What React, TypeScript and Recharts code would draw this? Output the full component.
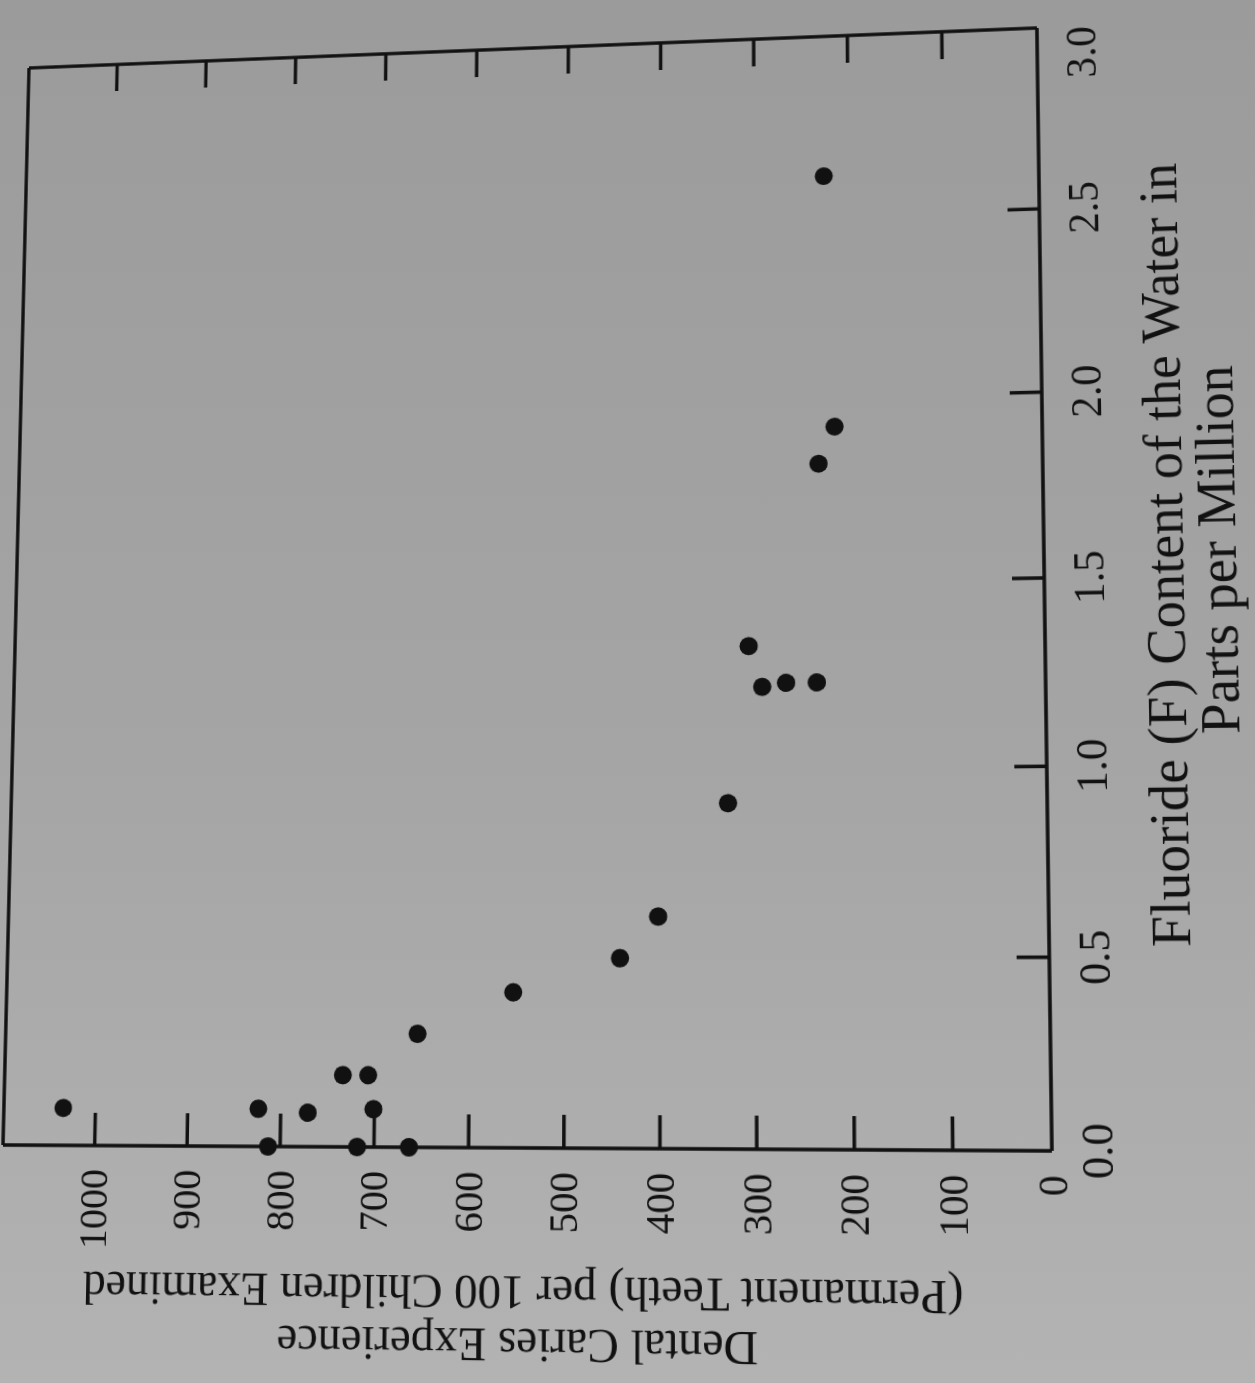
import React from "react";
import { ScatterChart, Scatter, XAxis, YAxis } from "recharts";

// fluoride (ppm) and caries (per 100 children)
const fluoride = [0.1, 0.1, 0.0, 0.09, 0.19, 0.0, 0.19, 0.1, 0.0, 0.3, 0.41, 0.5, 0.61, 0.91, 1.33, 1.22, 1.23, 1.23, 1.82, 1.92, 2.61];
const caries = [1035, 824, 813, 771, 734, 718, 707, 701, 663, 655, 554, 442, 402, 329, 307, 293, 268, 236, 233, 216, 226];

const fluorideTicks = [0, 0.5, 1, 1.5, 2, 2.5, 3];
const cariesTicks = [0, 100, 200, 300, 400, 500, 600, 700, 800, 900, 1000];

const xTitle = ["Fluoride (F) Content of the Water in", "Parts per Million"];
const yTitle = ["Dental Caries Experience", "(Permanent Teeth) per 100 Children Examined"];

const points = fluoride.map((f, i) => ({ f, c: caries[i] }));

const FONT = "'Liberation Serif', 'DejaVu Serif', serif";
const INK = "#111";

// chart drawn upright, then projected onto the rotated, slightly skewed page
const W = 1390;
const H = 1280;
const L = 250;
const T = 20;
const PW = 1100;
const PH = 1030;

function homography(src: number[][], dst: number[][]) {
  const A: number[][] = [];
  const b: number[] = [];
  for (let i = 0; i < 4; i++) {
    const [x, y] = src[i];
    const [u, v] = dst[i];
    A.push([x, y, 1, 0, 0, 0, -x * u, -y * u]);
    b.push(u);
    A.push([0, 0, 0, x, y, 1, -x * v, -y * v]);
    b.push(v);
  }
  for (let c = 0; c < 8; c++) {
    let p = c;
    for (let r = c + 1; r < 8; r++) if (Math.abs(A[r][c]) > Math.abs(A[p][c])) p = r;
    [A[c], A[p]] = [A[p], A[c]];
    [b[c], b[p]] = [b[p], b[c]];
    for (let r = 0; r < 8; r++) {
      if (r === c) continue;
      const k = A[r][c] / A[c][c];
      for (let j = c; j < 8; j++) A[r][j] -= k * A[c][j];
      b[r] -= k * b[c];
    }
  }
  const h = b.map((v, i) => (v / A[i][i]).toFixed(10));
  return `matrix3d(${h[0]},${h[3]},0,${h[6]},${h[1]},${h[4]},0,${h[7]},0,0,1,0,${h[2]},${h[5]},0,1)`;
}

const transform = homography(
  [
    [L, T],
    [L + PW, T],
    [L + PW, T + PH],
    [L, T + PH],
  ],
  [
    [3, 1145],
    [29, 68],
    [1037, 28],
    [1052, 1151],
  ]
);

function FluorideTick(props: any) {
  const { x, y, payload } = props;
  const v = payload.value;
  return (
    <g>
      {v > 0 && v < 3 && <line x1={x} y1={y} x2={x} y2={y - 31} stroke={INK} strokeWidth={3.5} />}
      <text
        x={x}
        y={y + 57}
        textAnchor={v === 3 ? "end" : "middle"}
        fontFamily={FONT}
        fontSize={42}
        fill={INK}
      >
        {v.toFixed(1)}
      </text>
    </g>
  );
}

function CariesTick(props: any) {
  const { x, y, payload } = props;
  const v = payload.value;
  return (
    <g>
      {v > 0 && <line x1={x} y1={y} x2={x + 32} y2={y} stroke={INK} strokeWidth={3.5} />}
      {v > 0 && <line x1={x + PW} y1={y} x2={x + PW - 28} y2={y} stroke={INK} strokeWidth={3.5} />}
      <text x={x - 23} y={y} dy="0.35em" textAnchor="end" fontFamily={FONT} fontSize={39} fill={INK}>
        {v}
      </text>
    </g>
  );
}

function XTitle(props: any) {
  const vb = props.viewBox;
  const cx = vb.x + (vb.width * 1.57) / 3;
  return (
    <g fontFamily={FONT} fontSize={53} fill={INK}>
      <text x={cx} y={vb.y + 133} textAnchor="middle">{xTitle[0]}</text>
      <text x={cx} y={vb.y + 183} textAnchor="middle">{xTitle[1]}</text>
    </g>
  );
}

function YTitle(props: any) {
  const vb = props.viewBox;
  const right = vb.x + vb.width;
  const cy = vb.y + vb.height / 2;
  return (
    <g fontFamily={FONT} fontSize={46} fill={INK}>
      <text x={right - 173} y={cy} textAnchor="middle" transform={`rotate(-90 ${right - 173} ${cy})`}>
        {yTitle[0]}
      </text>
      <text x={right - 123} y={cy} textAnchor="middle" transform={`rotate(-90 ${right - 123} ${cy})`}>
        {yTitle[1]}
      </text>
    </g>
  );
}

const Dot = (props: any) => <circle cx={props.cx} cy={props.cy} r={9} fill={INK} />;

const frame = { stroke: INK, strokeWidth: 3.5 };

export default function App() {
  return (
    <div
      style={{
        position: "absolute",
        left: 0,
        top: 0,
        width: 1255,
        height: 1383,
        overflow: "hidden",
        background: "linear-gradient(180deg, #9b9b9b 0%, #a5a5a5 55%, #b3b3b3 100%)",
      }}
    >
      <div
        style={{
          position: "absolute",
          left: 0,
          top: 0,
          width: W,
          height: H,
          transformOrigin: "0 0",
          transform,
        }}
      >
        <ScatterChart width={W} height={H} margin={{ top: T - 1, right: 39, bottom: 0, left: 0 }}>
          <XAxis
            dataKey="f"
            type="number"
            domain={[0, 3]}
            ticks={fluorideTicks}
            interval={0}
            height={230}
            tickSize={0}
            tickMargin={0}
            tickLine={false}
            axisLine={frame}
            tick={FluorideTick}
            label={{ content: XTitle }}
          />
          <XAxis
            xAxisId="top"
            orientation="top"
            type="number"
            domain={[0, 3]}
            height={1}
            tick={false}
            tickLine={false}
            axisLine={frame}
          />
          <YAxis
            dataKey="c"
            type="number"
            domain={[0, 1100]}
            ticks={cariesTicks}
            interval={0}
            width={L}
            tickSize={0}
            tickMargin={0}
            tickLine={false}
            axisLine={frame}
            tick={CariesTick}
            label={{ content: YTitle }}
          />
          <YAxis
            yAxisId="right"
            orientation="right"
            type="number"
            domain={[0, 1100]}
            width={1}
            tick={false}
            tickLine={false}
            axisLine={frame}
          />
          <Scatter data={points} fill={INK} shape={Dot} isAnimationActive={false} />
        </ScatterChart>
      </div>
    </div>
  );
}
